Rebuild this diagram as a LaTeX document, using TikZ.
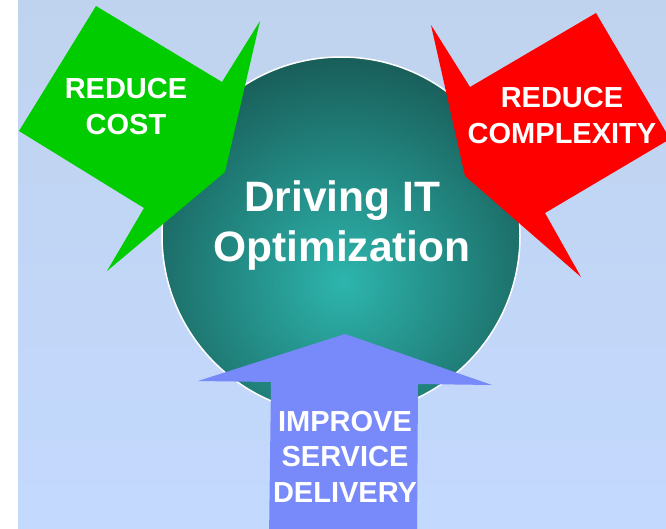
\documentclass[tikz,border=0pt]{standalone}
\usepackage{fontspec}
\setmainfont{Liberation Sans}
\usepackage{xcolor}
\definecolor{bgtop}{RGB}{192,211,238}
\definecolor{bgbottom}{RGB}{195,217,254}
\definecolor{ballinner}{RGB}{45,181,173}
\definecolor{ballouter}{RGB}{23,86,82}
\definecolor{servicecolor}{RGB}{120,138,250}
\newcommand{\costcolor}{green!80!black}
\newcommand{\complexcolor}{red}
\newcommand{\rad}{179}

\begin{document}
\begin{tikzpicture}[x=1pt, y=-1pt,
        arrowtext/.style={text=white, align=center, inner sep=0pt, font=\bfseries\fontsize{29}{35.5}\selectfont},
        balltext/.style={text=white, align=center, inner sep=0pt, font=\bfseries\fontsize{42.5}{50}\selectfont}]
        \useasboundingbox (0,0) rectangle (666,528);
        \clip (0,0) rectangle (666,528);

        % background
        \fill[white] (0,0) rectangle (18,528);
        \shade[top color=bgtop, bottom color=bgbottom] (18,0) rectangle (666,528);

        % ball
        \coordinate (C) at (341,236);
        \begin{scope}
            \clip (C) circle (\rad);
            \shade[inner color=ballinner, outer color=ballouter] (343,282) circle (245);
        \end{scope}
        \draw[white, line width=1.5pt] (C) circle (\rad);

        % cost arrow
        \coordinate (costA) at (96,6);
        \coordinate (costB) at (222,82);
        \coordinate (costC) at (260,21);
        \coordinate (costTip) at (225,172);
        \coordinate (costD) at (107,271);
        \coordinate (costE) at (144,208);
        \coordinate (costF) at (19,131);
        \fill[\costcolor] (costA) -- (costB) -- (costC) -- (costTip) -- (costD) -- (costE) -- (costF) -- cycle;

        % complexity arrow
        \coordinate (cplxA) at (596,13);
        \coordinate (cplxB) at (670,139);
        \coordinate (cplxC) at (545,213);
        \coordinate (cplxD) at (581,277);
        \coordinate (cplxTip) at (465,176);
        \coordinate (cplxE) at (431,25);
        \coordinate (cplxF) at (470,87);
        \fill[\complexcolor] (cplxA) -- (cplxB) -- (cplxC) -- (cplxD) -- (cplxTip) -- (cplxE) -- (cplxF) -- cycle;

        % service arrow
        \coordinate (servTip) at (345,334);
        \coordinate (servA) at (198,381);
        \coordinate (servB) at (271,382);
        \coordinate (servC) at (269,540);
        \coordinate (servD) at (417,540);
        \coordinate (servE) at (418,384);
        \coordinate (servF) at (492,385);
        \fill[servicecolor] (servTip) -- (servA) -- (servB) -- (servC) -- (servD) -- (servE) -- (servF) -- cycle;

        % labels
        \node[balltext] (goal) at (342,225.5) {Driving IT\\Optimization};
        \node[arrowtext] (cost) at (126,106.5) {REDUCE\\COST};
        \node[arrowtext] (complexity) at (562,115.5) {REDUCE\\COMPLEXITY};
        \node[arrowtext] (service) at (345,456.5) {IMPROVE\\SERVICE\\DELIVERY};
    \end{tikzpicture}
\end{document}
